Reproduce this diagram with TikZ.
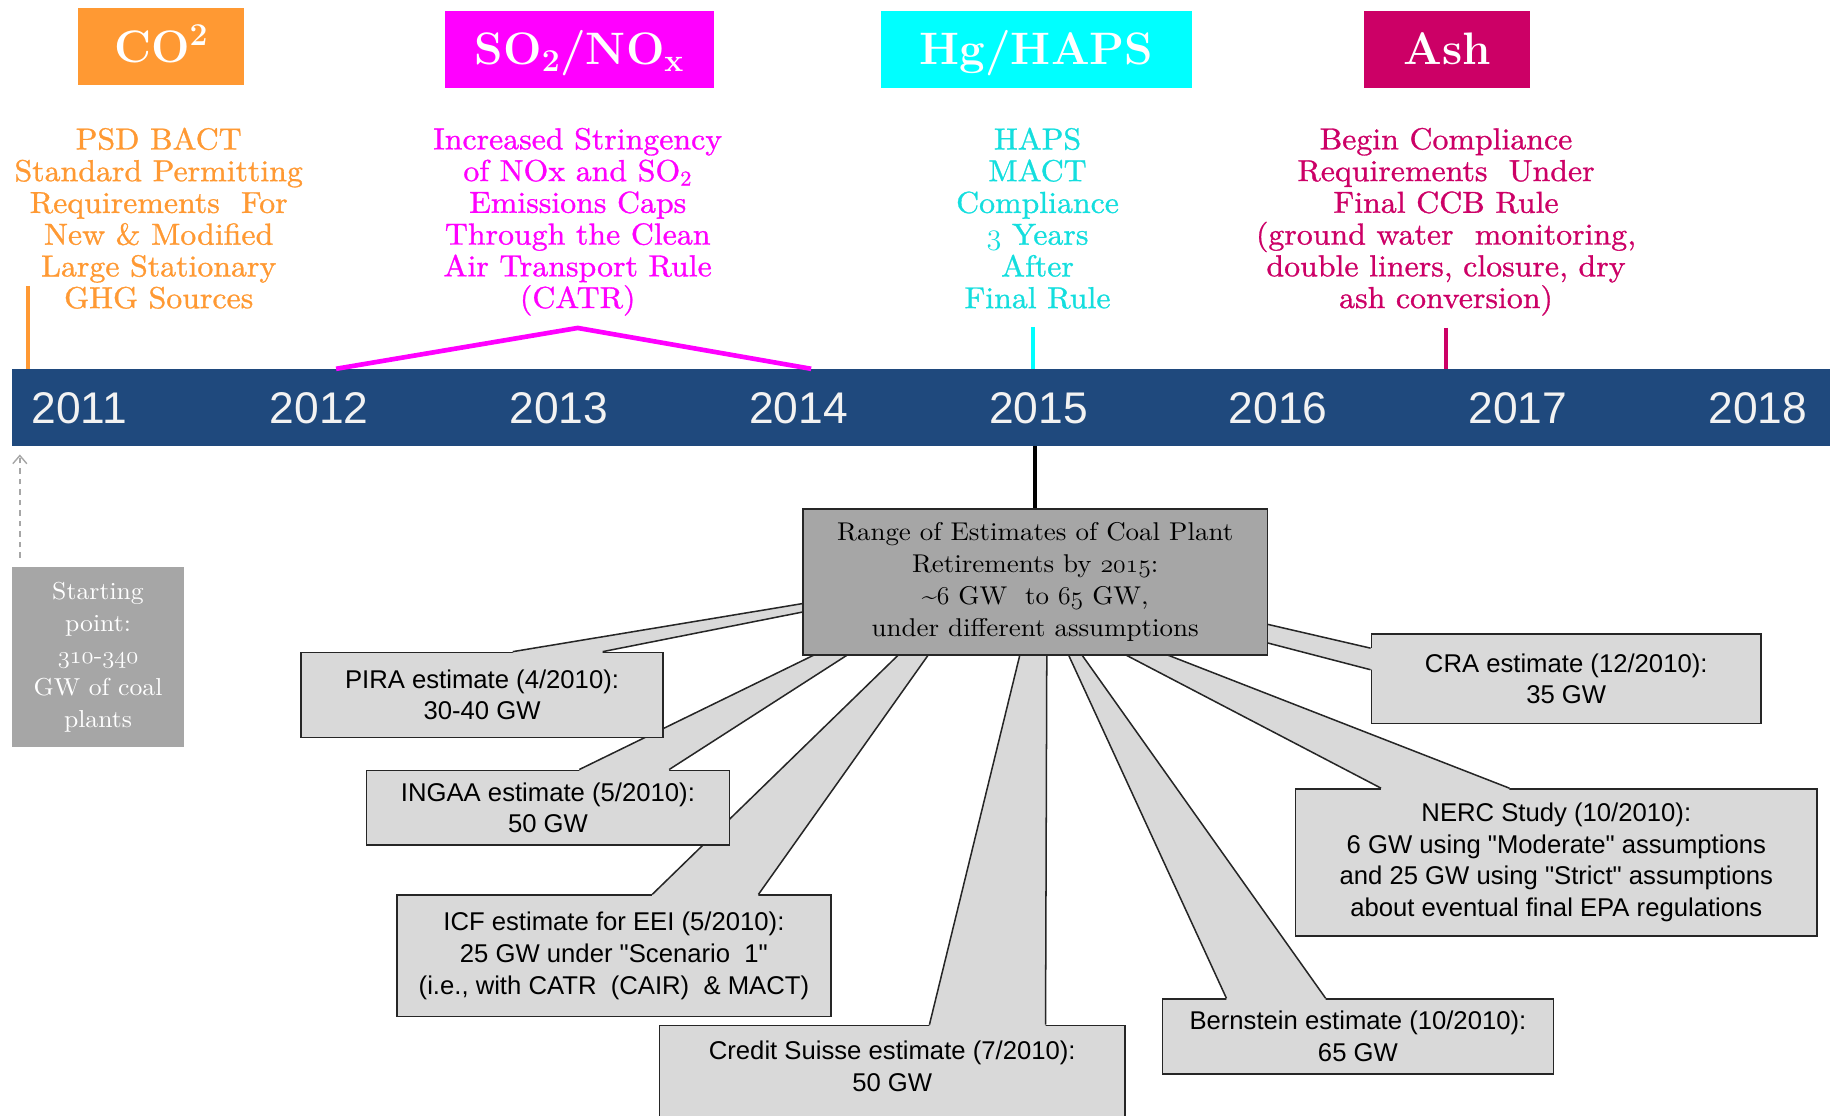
\RequirePackage{fix-cm}
\documentclass[tikz,border=0pt]{standalone}
\usepackage{fontspec}
\newfontfamily\estfont{Liberation Sans}
\newfontfamily\descfont{lmroman10-regular.otf}[FakeStretch=1.05,FakeBold=1]
\newfontfamily\rangefont{lmroman10-regular.otf}[FakeStretch=1.05]
\usetikzlibrary{arrows.meta,calc}
\definecolor{co2orange}{RGB}{255,153,51}
\definecolor{soxmagenta}{RGB}{255,0,255}
\definecolor{hgcyan}{RGB}{0,255,255}
\definecolor{hgtext}{RGB}{20,222,222}
\definecolor{ashred}{RGB}{204,0,102}
\definecolor{barblue}{RGB}{31,73,125}
\definecolor{boxgray}{RGB}{166,166,166}
\definecolor{estgray}{RGB}{217,217,217}
\newcommand{\oldfig}[1]{$\mathnormal{#1}$}

\begin{document}
\begin{tikzpicture}[x=1pt,y=-1pt,
		topbox/.style={minimum height=66pt, inner sep=0pt, text height=30pt, text depth=3.2pt, text=white, font=\fontsize{39}{42}\selectfont\bfseries},
		desc/.style={align=center, inner sep=0pt, font=\descfont\fontsize{26}{27.2}\selectfont},
		yearlbl/.style={inner sep=0pt, text=white!95!black, font=\estfont\fontsize{38}{40}\selectfont},
		estbox/.style={draw=black!85, line width=1.3pt, fill=estgray, align=center, inner sep=2pt, font=\estfont\fontsize{22}{27}\selectfont},
		esttext/.style={align=center, inner sep=0pt, font=\estfont\fontsize{22}{27}\selectfont},
		wedge/.style={fill=estgray},
		wedgeline/.style={draw=black!85, line width=1.3pt},
	]
	\useasboundingbox (0,0) rectangle (1568,956);
	
	% categories
	\node[topbox, fill=co2orange, minimum width=142pt] (co2box) at (138,40) {CO\textsuperscript{2}};
	\node[topbox, fill=soxmagenta, minimum width=231pt] (soxbox) at (496.5,42) {SO\textsubscript{2}/NO\textsubscript{x}};
	\node[topbox, fill=hgcyan, minimum width=266pt] (hgbox) at (888,42) {Hg/HAPS};
	\node[topbox, fill=ashred, minimum width=142pt] (ashbox) at (1240,42) {Ash};
	
	\node[desc, text=co2orange] (co2txt) at (136,187) {PSD BACT\\Standard Permitting\\Requirements~ For\\New \& Modified\\Large Stationary\\GHG Sources};
	\node[desc, text=soxmagenta] (soxtxt) at (495,190) {Increased Stringency\\of NOx and SO\textsubscript{2}\\Emissions Caps\\Through the Clean\\Air Transport Rule\\(CATR)};
	\node[desc, text=hgtext] (hgtxt) at (889,187) {HAPS\\MACT\\Compliance\\\oldfig{3} Years\\After\\Final Rule};
	\node[desc, text=ashred] (ashtxt) at (1239,190) {Begin Compliance\\Requirements~ Under\\Final CCB Rule\\(ground water~ monitoring,\\double liners, closure, dry\\ash conversion)};
	
	% time line
	\node[fill=barblue, minimum width=1560pt, minimum height=66pt, inner sep=0pt, anchor=north west] (bar) at (10,316) {};
	\foreach \yr [count=\i from 0] in {2011,...,2018}{
		\node[yearlbl] (y\yr) at ({68+205.43*\i},350) {\yr};
	}
	
	\coordinate (co2mark) at (24,245);
	\coordinate (soxpeak) at (495,281);
	\coordinate (hgmark) at (885,280);
	\coordinate (ashmark) at (1239,281);
	\draw[co2orange, line width=3pt] (co2mark) -- (co2mark |- bar.north);
	\draw[soxmagenta, line width=4pt] (bar.north -| 288,0) -- (soxpeak) -- (bar.north -| 695,0);
	\draw[hgcyan, line width=3pt] (hgmark) -- (hgmark |- bar.north);
	\draw[ashred, line width=3pt] (ashmark) -- (ashmark |- bar.north);
	
	% starting point
	\node[fill=boxgray, minimum width=147pt, minimum height=154pt, inner sep=0pt, align=center, text=white, font=\rangefont\fontsize{21}{27.3}\selectfont] (start) at (84,563) {Starting\\point:\\\oldfig{310}-\oldfig{340}\\GW of coal\\plants};
	\coordinate (startarr) at (17,478);
	\draw[gray!70, line width=1.2pt, dash pattern=on 5pt off 4pt, -{Straight Barb[length=7pt,width=12pt]}, shorten >=7pt] (startarr) -- (startarr |- bar.south);
	
	% estimates (lower ones first)
	\node[estbox, minimum width=372pt, minimum height=104pt] (icf) at (526,819) {ICF estimate for EEI (5/2010):\\25 GW under "Scenario~ 1"\\(i.e., with CATR~ (CAIR)~ \& MACT)};
	\fill[wedge] ($(icf.north west)+(219.5,3)$) -- ($(icf.north west)+(219.5,0)$) -- (791.5,540) -- (810.4,540) -- ($(icf.north west)+(310.5,0)$) -- ($(icf.north west)+(310.5,3)$) -- cycle;
	\draw[wedgeline] ($(icf.north west)+(219.5,0)$) -- (791.5,540) ($(icf.north west)+(310.5,0)$) -- (810.4,540);
	
	\node[estbox, minimum width=311pt, minimum height=64pt] (ingaa) at (469.5,692) {INGAA estimate (5/2010):\\50 GW};
	\fill[wedge] ($(ingaa.north west)+(183,3)$) -- ($(ingaa.north west)+(183,0)$) -- (741,540) -- (759,540) -- ($(ingaa.north west)+(260,0)$) -- ($(ingaa.north west)+(260,3)$) -- cycle;
	\draw[wedgeline] ($(ingaa.north west)+(183,0)$) -- (741,540) ($(ingaa.north west)+(260,0)$) -- (759,540);
	
	\node[estbox, minimum width=310pt, minimum height=73pt] (pira) at (413,595.5) {PIRA estimate (4/2010):\\30-40 GW};
	\fill[wedge] ($(pira.north west)+(182,3)$) -- ($(pira.north west)+(182,0)$) -- (720,511.8) -- (720,518) -- ($(pira.north west)+(259,0)$) -- ($(pira.north west)+(259,3)$) -- cycle;
	\draw[wedgeline] ($(pira.north west)+(182,0)$) -- (720,511.8) ($(pira.north west)+(259,0)$) -- (720,518);
	
	\node[estbox, minimum width=399pt, minimum height=100pt, anchor=north] (cs) at (764.5,878) {};
	\node[esttext] (cstext) at (764.5,913.5) {Credit Suisse estimate (7/2010):\\50 GW};
	\fill[wedge] ($(cs.north west)+(232,3)$) -- ($(cs.north west)+(232,0)$) -- (879,540) -- (897,540) -- ($(cs.north west)+(331.5,0)$) -- ($(cs.north west)+(331.5,3)$) -- cycle;
	\draw[wedgeline] ($(cs.north west)+(232,0)$) -- (879,540) ($(cs.north west)+(331.5,0)$) -- (897,540);
	
	\node[estbox, minimum width=335pt, minimum height=64pt] (bern) at (1163.5,888) {Bernstein estimate (10/2010):\\65 GW};
	\fill[wedge] ($(bern.north west)+(55.5,3)$) -- ($(bern.north west)+(55.5,0)$) -- (905.8,540) -- (912,540) -- ($(bern.north west)+(140.5,0)$) -- ($(bern.north west)+(140.5,3)$) -- cycle;
	\draw[wedgeline] ($(bern.north west)+(55.5,0)$) -- (905.8,540) ($(bern.north west)+(140.5,0)$) -- (912,540);
	
	\node[estbox, minimum width=447pt, minimum height=126pt] (nerc) at (1333.5,739) {NERC Study (10/2010):\\6 GW using "Moderate" assumptions\\and 25 GW using "Strict" assumptions\\about eventual final EPA regulations};
	\fill[wedge] ($(nerc.north west)+(74,3)$) -- ($(nerc.north west)+(74,0)$) -- (924,540) -- (946,540) -- ($(nerc.north west)+(184,0)$) -- ($(nerc.north west)+(184,3)$) -- cycle;
	\draw[wedgeline] ($(nerc.north west)+(74,0)$) -- (924,540) ($(nerc.north west)+(184,0)$) -- (946,540);
	
	\node[estbox, minimum width=334pt, minimum height=77pt] (cra) at (1342,581.5) {CRA estimate (12/2010):\\35 GW};
	\fill[wedge] ($(cra.north west)+(3,13)$) -- ($(cra.north west)+(0,13)$) -- (1060,528.9) -- (1060,544.1) -- ($(cra.north west)+(0,31.5)$) -- ($(cra.north west)+(3,31.5)$) -- cycle;
	\draw[wedgeline] ($(cra.north west)+(0,13)$) -- (1060,528.9) ($(cra.north west)+(0,31.5)$) -- (1060,544.1);
	
	% range of estimates
	\node[draw=black!85, line width=1.5pt, fill=boxgray, minimum width=398pt, minimum height=125pt, inner sep=0pt, align=center, font=\rangefont\fontsize{22}{27.3}\selectfont] (range) at (887,498.5) {Range of Estimates of Coal Plant\\Retirements by \oldfig{2015}:\\\textasciitilde\oldfig{6} GW~ to \oldfig{65} GW,\\under different assumptions};
	\draw[black, line width=3.5pt] (range.north) -- (range.north |- bar.south);
\end{tikzpicture}
\end{document}
